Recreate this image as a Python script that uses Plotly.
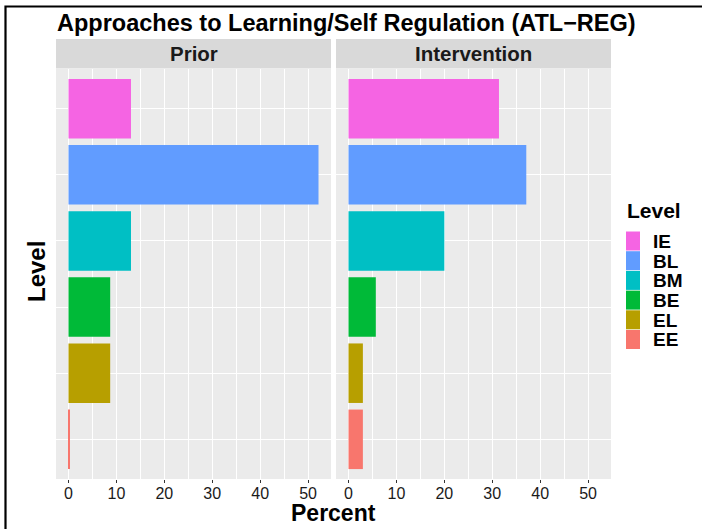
import plotly.graph_objects as go

# ---- data ----
levels = ["IE", "BL", "BM", "BE", "EL", "EE"]          # legend order (top to bottom)
colors = ["#F564E3", "#619CFF", "#00BFC4", "#00BA38", "#B79F00", "#F8766D"]
panels = ["Prior", "Intervention"]
prior_pct = [13.04, 52.17, 13.04, 8.70, 8.70, 0.3]
intervention_pct = [31.4, 37.1, 20.0, 5.7, 3.0, 3.0]
x_ticks = [0, 10, 20, 30, 40, 50]
title_text = "Approaches to Learning/Self Regulation (ATL\u2212REG)"

values = {"Prior": prior_pct, "Intervention": intervention_pct}

W, H = 702, 529
ML, MR, MT, MB = 56, 91, 39, 50
PW = W - ML - MR
PH = H - MT - MB
panel_top_px = 69


def px_x(p):
    return (p - ML) / PW


def px_y(p):
    return (H - MB - p) / PH


FONT = "Liberation Sans, Arial, Helvetica, sans-serif"

fig = go.Figure()
axes = [("x", "y"), ("x2", "y2")]
for (xa, ya), panel in zip(axes, panels):
    for lev, col, v in zip(levels, colors, values[panel]):
        fig.add_trace(go.Bar(
            x=[v], y=[lev], orientation="h", width=0.9,
            marker=dict(color=col, line=dict(width=0)),
            xaxis=xa, yaxis=ya, showlegend=False, name=lev,
            hovertemplate=f"{panel} {lev}: %{{x}}%<extra></extra>",
        ))

xmax = max(max(prior_pct), max(intervention_pct))
xrange = [-0.05 * xmax, xmax * 1.05]
ydomain = [0, px_y(panel_top_px)]
gap = 5 / PW
d1 = [0, 0.5 - gap / 2]
d2 = [0.5 + gap / 2, 1]

xcommon = dict(
    range=xrange, tickvals=x_ticks, ticktext=[str(t) for t in x_ticks],
    showgrid=True, gridcolor="white", gridwidth=1.1, zeroline=False,
    ticks="outside", ticklen=3, tickwidth=1, tickcolor="#333333",
    ticklabelstandoff=-3,
    tickfont=dict(family=FONT, size=16, color="#1A1A1A"),
    minor=dict(dtick=5, tick0=5, showgrid=True, gridcolor="white", gridwidth=0.5, ticks=""),
    showline=False, fixedrange=True,
)
cat_order = list(reversed(levels))
ycommon = dict(
    categoryorder="array", categoryarray=cat_order, range=[-0.6, len(levels) - 0.4],
    showticklabels=False, showgrid=True, gridcolor="white", gridwidth=1.1,
    zeroline=False, ticks="", domain=ydomain, fixedrange=True,
)

fig.update_layout(
    width=W, height=H,
    margin=dict(l=ML, r=MR, t=MT, b=MB, autoexpand=False),
    paper_bgcolor="white", plot_bgcolor="#EBEBEB",
    barmode="overlay", showlegend=False,
    font=dict(family=FONT, color="black"),
    xaxis=dict(domain=d1, anchor="y", **xcommon),
    xaxis2=dict(domain=d2, anchor="y2", **xcommon),
    yaxis=dict(anchor="x", **ycommon),
    yaxis2=dict(anchor="x2", matches="y", **ycommon),
)

shapes = []
annotations = []

# outer frame (cropped border: only top and left edges visible)
shapes.append(dict(type="rect", xref="paper", yref="paper",
                   x0=px_x(5.5), x1=px_x(W + 20), y0=px_y(H + 20), y1=px_y(6.5),
                   fillcolor="rgba(0,0,0,0)", line=dict(color="black", width=2.2),
                   layer="above"))

# strips
strip_bottom = px_y(68.5)
for dom, panel in zip([d1, d2], panels):
    shapes.append(dict(type="rect", xref="paper", yref="paper", x0=dom[0], x1=dom[1],
                       y0=strip_bottom, y1=1, fillcolor="#D9D9D9", line=dict(width=0), layer="below"))
    annotations.append(dict(text=f"<b>{panel}</b>", xref="paper", yref="paper",
                            x=(dom[0] + dom[1]) / 2, y=(strip_bottom + 1) / 2,
                            xanchor="center", yanchor="middle", showarrow=False,
                            font=dict(family=FONT, size=20.5, color="#1A1A1A")))

# title
annotations.append(dict(text=f"<b>{title_text}</b>", xref="paper", yref="paper",
                        x=px_x(55), y=px_y(23), xanchor="left", yanchor="middle",
                        showarrow=False, font=dict(family=FONT, size=23.5, color="black")))
# axis titles
annotations.append(dict(text="<b>Percent</b>", xref="paper", yref="paper",
                        x=0.5, y=px_y(513), xanchor="center", yanchor="middle",
                        showarrow=False, font=dict(family=FONT, size=23, color="black")))
annotations.append(dict(text="<b>Level</b>", xref="paper", yref="paper",
                        x=px_x(36), y=px_y(272), xanchor="center", yanchor="middle",
                        textangle=-90, showarrow=False,
                        font=dict(family=FONT, size=24, color="black")))

# legend (built from levels/colors)
annotations.append(dict(text="<b>Level</b>", xref="paper", yref="paper",
                        x=px_x(625), y=px_y(210), xanchor="left", yanchor="middle",
                        showarrow=False, font=dict(family=FONT, size=21, color="black")))
key_top = 231.5
key_h = 19.7
for i, (lev, col) in enumerate(zip(levels, colors)):
    y0 = key_top + i * key_h
    shapes.append(dict(type="rect", xref="paper", yref="paper",
                       x0=px_x(626), x1=px_x(640), y0=px_y(y0 + key_h - 0.7), y1=px_y(y0),
                       fillcolor=col, line=dict(width=0)))
    annotations.append(dict(text=f"<b>{lev}</b>", xref="paper", yref="paper",
                            x=px_x(651), y=px_y(y0 + key_h / 2), xanchor="left", yanchor="middle",
                            showarrow=False, font=dict(family=FONT, size=19, color="black")))

fig.update_layout(shapes=shapes, annotations=annotations)

fig.write_html(
    "out.html",
    config={"displayModeBar": False},
    post_script="document.body.style.margin='0';document.body.style.overflow='hidden';",
)
